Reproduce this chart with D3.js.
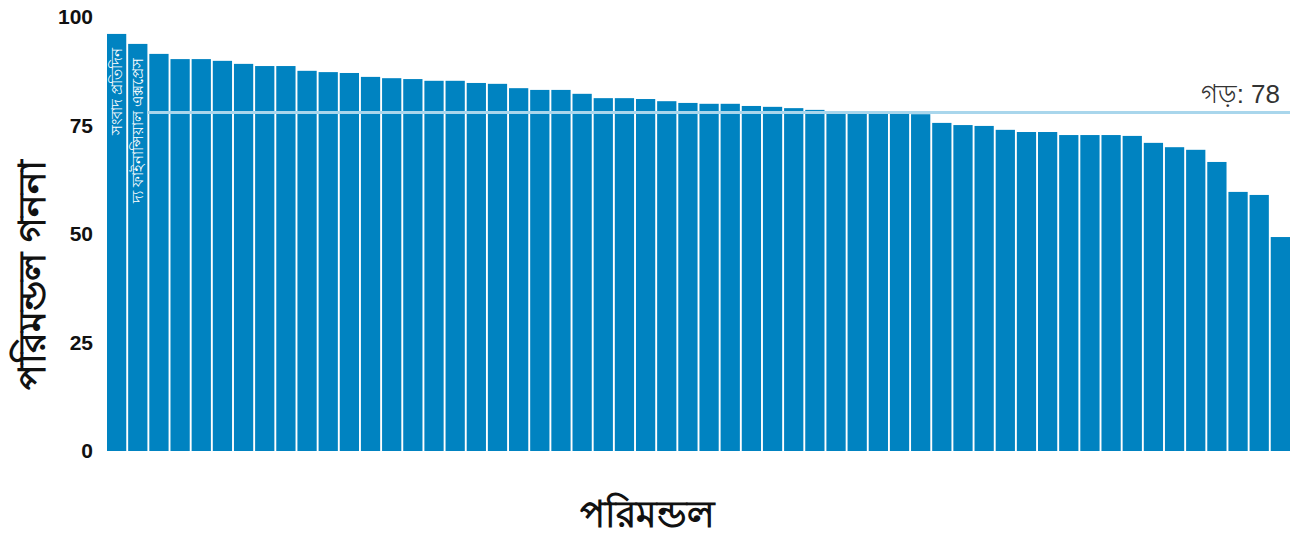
<!DOCTYPE html>
<html>
<head>
<meta charset="utf-8">
<script src="https://cdn.jsdelivr.net/npm/d3@7"></script>
<style>
  body { margin: 0; background: #fff; }
  svg text { font-family: "Liberation Sans", Arial, "Noto Sans", sans-serif; }
</style>
</head>
<body>
<div id="chart"></div>
<script>
// bar values, sorted high to low
var values = [96.1, 93.8, 91.5, 90.3, 90.3, 89.9, 89.2, 88.7, 88.7, 87.6,
              87.3, 87.1, 86.2, 85.9, 85.7, 85.3, 85.3, 84.8, 84.6, 83.6,
              83.2, 83.2, 82.3, 81.3, 81.3, 81.1, 80.6, 80.2, 80.0, 80.0,
              79.5, 79.3, 79.0, 78.6, 78.1, 78.1, 78.1, 78.1, 77.6, 75.6,
              75.1, 74.9, 74.0, 73.5, 73.5, 72.8, 72.8, 72.8, 72.6, 71.0,
              70.0, 69.4, 66.6, 59.7, 59.0, 49.3];
var barLabels = ["সংবাদ প্রতিদিন", "দ্য ফাইনান্সিয়াল এক্সপ্রেস"];
var yTicks = [0, 25, 50, 75, 100];
var average = 78;
var avgLabel = "গড়: 78";
var xTitle = "পরিমন্ডল";
var yTitle = "পরিমন্ডল গননা";

var W = 1299, H = 534;
var margin = {top: 17, right: 9, bottom: 83, left: 107};
var width = W - margin.left - margin.right;
var height = H - margin.top - margin.bottom;

var svg = d3.select("#chart").append("svg")
  .attr("width", W)
  .attr("height", H);

var g = svg.append("g")
  .attr("transform", "translate(" + margin.left + "," + margin.top + ")");

var x = d3.scaleBand()
  .domain(d3.range(values.length))
  .range([0, width])
  .paddingInner(0.09)
  .paddingOuter(0);

var y = d3.scaleLinear()
  .domain([0, 100])
  .range([height, 0]);

// y axis, labels only
var yAxis = g.append("g")
  .call(d3.axisLeft(y).tickValues(yTicks).tickSize(0).tickPadding(14));
yAxis.select(".domain").remove();
yAxis.selectAll("text")
  .style("font-size", "21px")
  .style("font-weight", "bold")
  .style("fill", "#111");

// bars
g.selectAll(".bar")
  .data(values)
  .enter()
  .append("rect")
    .attr("class", "bar")
    .attr("x", function(d, i) { return x(i); })
    .attr("width", x.bandwidth())
    .attr("y", function(d) { return y(d); })
    .attr("height", function(d) { return height - y(d); })
    .attr("fill", "#0083c1");

// names inside the first bars
g.selectAll(".barname")
  .data(barLabels)
  .enter()
  .append("text")
    .attr("class", "barname")
    .attr("transform", function(d, i) {
      return "translate(" + (x(i) + x.bandwidth() / 2 + 5) + "," + (y(values[i]) + 14) + ")rotate(-90)";
    })
    .attr("text-anchor", "end")
    .style("font-size", "15px")
    .style("fill", "#fff")
    .text(function(d) { return d; });

// average line
g.append("line")
  .attr("x1", x(2) - 2)
  .attr("x2", width)
  .attr("y1", y(average))
  .attr("y2", y(average))
  .attr("stroke", "#a9d6ec")
  .attr("stroke-width", 3);

g.append("text")
  .attr("x", width - 10)
  .attr("y", y(average) - 9)
  .attr("text-anchor", "end")
  .style("font-size", "26px")
  .style("fill", "#333")
  .text(avgLabel);

// axis titles
svg.append("text")
  .attr("x", 647)
  .attr("y", 527)
  .attr("text-anchor", "middle")
  .style("font-size", "37px")
  .style("font-weight", "bold")
  .style("fill", "#111")
  .text(xTitle);

svg.append("text")
  .attr("transform", "translate(45,275)rotate(-90)")
  .attr("text-anchor", "middle")
  .style("font-size", "38px")
  .style("font-weight", "bold")
  .style("fill", "#111")
  .text(yTitle);
</script>
</body>
</html>
